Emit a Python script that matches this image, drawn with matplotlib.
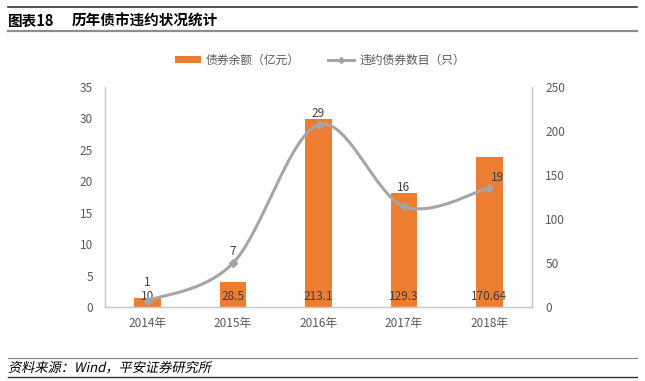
import numpy as np
import matplotlib
matplotlib.use("Agg")
import matplotlib.pyplot as plt
from matplotlib.lines import Line2D
from matplotlib.patches import Patch, PathPatch
from matplotlib.textpath import TextPath
from matplotlib.font_manager import FontProperties
from matplotlib.transforms import Affine2D, IdentityTransform

plt.rcParams['font.family'] = ['Noto Sans CJK SC', 'DejaVu Sans']

# ===================== 数据 =====================
years = ["2014年", "2015年", "2016年", "2017年", "2018年"]
balance = [10, 28.5, 213.1, 129.3, 170.64]      # 债券余额（亿元），右轴
balance_labels = ["10", "28.5", "213.1", "129.3", "170.64"]
default_count = [1, 7, 29, 16, 19]               # 违约债券数目（只），左轴
left_ticks = [0, 5, 10, 15, 20, 25, 30, 35]
right_ticks = [0, 50, 100, 150, 200, 250]

# 折线标签相对数据点的偏移（pt），参照原图手动摆放
count_label_offsets = [(0, 13), (0, 8.5), (0, 8), (0, 13.5), (6, 7.5)]

BAR_COLOR = "#ED7D31"
LINE_COLOR = "#A5A5A5"
TEXT_COLOR = "#404040"
TICK_COLOR = "#595959"
SPINE_COLOR = "#C8C8C8"
DPI = 100


def smooth(xs, ys, n=40):
    # Excel 平滑线：Catmull-Rom 式贝塞尔
    xs = np.asarray(xs, float)
    ys = np.asarray(ys, float)
    px = np.concatenate([[xs[0]], xs, [xs[-1]]])
    py = np.concatenate([[ys[0]], ys, [ys[-1]]])
    out_x, out_y = [], []
    t = np.linspace(0, 1, n)
    for i in range(1, len(px) - 2):
        p0 = np.array([px[i], py[i]])
        p3 = np.array([px[i + 1], py[i + 1]])
        c1 = p0 + (np.array([px[i + 1], py[i + 1]]) - np.array([px[i - 1], py[i - 1]])) / 6
        c2 = p3 - (np.array([px[i + 2], py[i + 2]]) - np.array([px[i], py[i]])) / 6
        b = ((1 - t) ** 3)[:, None] * p0 + (3 * (1 - t) ** 2 * t)[:, None] * c1 \
            + (3 * (1 - t) * t ** 2)[:, None] * c2 + (t ** 3)[:, None] * p3
        out_x.extend(b[:, 0])
        out_y.extend(b[:, 1])
    return np.array(out_x), np.array(out_y)


fig = plt.figure(figsize=(6.45, 3.81), dpi=DPI)
fig.patch.set_facecolor("white")

# ===================== 标题与来源 =====================
fig.add_artist(Line2D([8 / 645, 637 / 645], [1 - 7 / 381, 1 - 7 / 381],
                      color="#333333", lw=1.2))
fig.text(8 / 645, 1 - 21 / 381, "图表18", fontsize=10.5, fontweight="bold",
         color="black", va="center", ha="left")
fig.text(72 / 645, 1 - 21 / 381, "历年债市违约状况统计", fontsize=10.5,
         fontweight="bold", color="black", va="center", ha="left")
fig.add_artist(Line2D([8 / 645, 637 / 645], [1 - 31 / 381, 1 - 31 / 381],
                      color="#8C8C8C", lw=1.6))

fig.add_artist(Line2D([8 / 645, 637 / 645], [1 - 358 / 381, 1 - 358 / 381],
                      color="#8C8C8C", lw=0.9))
# 来源文字：中文字体无斜体，用倾斜变换模拟
try:
    fp = FontProperties(family=['Noto Sans CJK SC', 'DejaVu Sans'])
    tp = TextPath((0, 0), "资料来源：Wind，平安证券研究所", size=9.5, prop=fp)
    tr = Affine2D().skew_deg(12, 0).scale(DPI / 72).translate(8, 381 - 372) + IdentityTransform()
    fig.add_artist(PathPatch(tp, transform=tr, facecolor="black", lw=0))
except Exception:
    fig.text(8 / 645, 1 - 368 / 381, "资料来源：Wind，平安证券研究所", fontsize=9.5,
             color="black", va="center", ha="left")
fig.add_artist(Line2D([8 / 645, 637 / 645], [1 - 377 / 381, 1 - 377 / 381],
                      color="#333333", lw=1.0))

# ===================== 主图 =====================
ax = fig.add_axes([105 / 645, 1 - 307 / 381, 427 / 645, 220 / 381])
ax2 = ax.twinx()
x = np.arange(len(years))

# 柱子：右轴刻度
bars = ax.bar(x, balance, width=0.31, color=BAR_COLOR, zorder=2)
ax.set_ylim(0, 250)
ax.set_xlim(-0.5, len(years) - 0.5)
ax.set_yticks(right_ticks)
ax.yaxis.tick_right()
ax.yaxis.set_label_position("right")
ax.tick_params(axis="y", length=0, pad=9.5, labelsize=8.5, labelcolor=TICK_COLOR)
ax.set_xticks(x)
ax.set_xticklabels(years)
ax.tick_params(axis="x", length=0, pad=7, labelsize=8.5, labelcolor=TICK_COLOR)
for b, lab in zip(bars, balance_labels):
    ax.annotate(lab, (b.get_x() + b.get_width() / 2, 0), xytext=(0, 7.5),
                textcoords="offset points", ha="center", va="center",
                fontsize=8.5, color=TEXT_COLOR)

# 折线：左轴刻度
ax2.set_ylim(0, 35)
ax2.set_yticks(left_ticks)
ax2.yaxis.tick_left()
ax2.yaxis.set_label_position("left")
ax2.tick_params(axis="y", length=0, pad=8.5, labelsize=8.5, labelcolor=TICK_COLOR)
sx, sy = smooth(x, default_count)
ax2.plot(sx, sy, color=LINE_COLOR, lw=2.2, solid_capstyle="round", zorder=3)
ax2.plot(x, default_count, ls="none", marker="D", ms=4, color=LINE_COLOR, zorder=4)
for xi, v, off in zip(x, default_count, count_label_offsets):
    ax2.annotate(str(v), (xi, v), xytext=off, textcoords="offset points",
                 ha="center", va="center", fontsize=8.5, color=TEXT_COLOR)

for a in (ax, ax2):
    a.spines["top"].set_visible(False)
    for s in ("left", "right", "bottom"):
        a.spines[s].set_color(SPINE_COLOR)
        a.spines[s].set_linewidth(0.9)

# ===================== 图例 =====================
handles = [Patch(facecolor=BAR_COLOR, edgecolor="none"),
           Line2D([], [], color=LINE_COLOR, lw=2.2, marker="D", ms=3)]
fig.legend(handles, ["债券余额（亿元）", "违约债券数目（只）"],
           loc="center", bbox_to_anchor=(320 / 645, 1 - 60 / 381), ncol=2,
           frameon=False, fontsize=8.5, handlelength=2.2, handleheight=0.6,
           handletextpad=0.4, columnspacing=2.4, labelcolor=TICK_COLOR)

fig.savefig("out.png", dpi=DPI, facecolor="white")
